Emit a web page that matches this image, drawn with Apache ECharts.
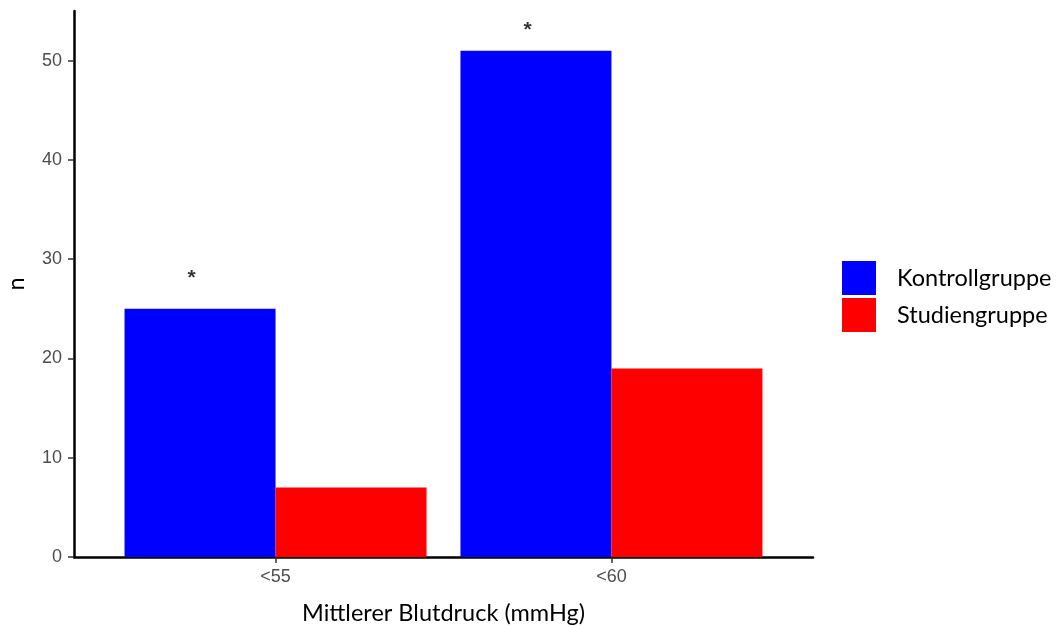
<!DOCTYPE html>
<html>
<head>
<meta charset="utf-8">
<script src="https://cdn.jsdelivr.net/npm/echarts@6/dist/echarts.min.js"></script>
<style>html,body{margin:0;padding:0;background:#fff}#c{width:1058px;height:626px}</style>
</head>
<body>
<div id="c"></div>
<script>
const categories = ['<55', '<60'];
const kontrollgruppe = [25, 51];
const studiengruppe = [7, 19];
const yTicks = [0, 10, 20, 30, 40, 50];
const sigLabel = ['*', '*'];
const sigX = [0.75, 1.75];
const sigY = [28.5, 53.5];

const catPos = categories.map((_, i) => i + 1);
const chart = echarts.init(document.getElementById('c'), null, {renderer: 'canvas'});
const axisFont = 'Liberation Sans';
const titleFont = 'Lato';

chart.setOption({
  animation: false,
  backgroundColor: '#ffffff',
  grid: {left: 74, right: 245, top: 11, bottom: 69, containLabel: false, outerBoundsMode: 'none'},
  legend: {
    orient: 'vertical', left: 842, top: 261, padding: 0, itemWidth: 34, itemHeight: 34, itemGap: 3,
    icon: 'rect', selectedMode: false,
    textStyle: {fontFamily: titleFont, fontSize: 23.5, color: '#000', padding: [0, 0, 0, 16]},
    data: ['Kontrollgruppe', 'Studiengruppe']
  },
  xAxis: {
    type: 'value', min: 0.4, max: 2.6,
    name: 'Mittlerer Blutdruck (mmHg)', nameLocation: 'middle', nameGap: 44,
    nameTextStyle: {fontFamily: titleFont, fontSize: 23.5, color: '#000'},
    axisLine: {show: true, lineStyle: {color: '#000', width: 2.5}},
    axisTick: {show: true, customValues: catPos, length: 6, lineStyle: {color: '#333', width: 1.5}},
    axisLabel: {customValues: catPos, margin: 11, fontFamily: axisFont, fontSize: 18, color: '#4D4D4D',
      formatter: v => categories[Math.round(v) - 1] || ''},
    splitLine: {show: false}
  },
  yAxis: {
    type: 'value', min: 0, max: 55,
    name: 'n', nameLocation: 'middle', nameGap: 46,
    nameTextStyle: {fontFamily: titleFont, fontSize: 23.5, color: '#000'},
    axisLine: {show: true, lineStyle: {color: '#000', width: 2.5}},
    axisTick: {show: true, customValues: yTicks, length: 6, lineStyle: {color: '#333', width: 1.5}},
    axisLabel: {customValues: yTicks, margin: 12, fontFamily: axisFont, fontSize: 18, color: '#4D4D4D'},
    splitLine: {show: false}
  },
  series: [
    {name: 'Kontrollgruppe', type: 'bar', barWidth: 151, barGap: '0%',
     itemStyle: {color: '#0000FF'}, data: catPos.map((x, i) => [x, kontrollgruppe[i]])},
    {name: 'Studiengruppe', type: 'bar', barWidth: 151, barGap: '0%',
     itemStyle: {color: '#FF0000'}, data: catPos.map((x, i) => [x, studiengruppe[i]])},
    {name: 'sig', type: 'scatter', symbolSize: 0, silent: true,
     label: {show: true, position: 'inside', formatter: p => sigLabel[p.dataIndex],
       fontFamily: axisFont, fontSize: 21, fontWeight: 'bold', color: '#000', offset: [0, 4]},
     data: sigX.map((x, i) => [x, sigY[i]])}
  ]
});
</script>
</body>
</html>
